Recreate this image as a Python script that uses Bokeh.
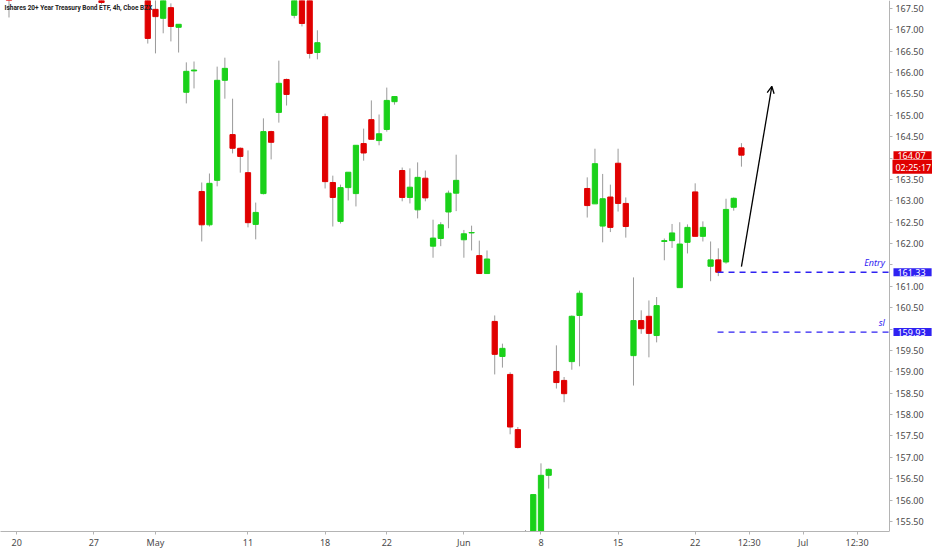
from bokeh.plotting import figure
from bokeh.models import (Range1d, FixedTicker, NumeralTickFormatter, Label,
                          Arrow, OpenHead, ColumnDataSource)
from bokeh.core.properties import value
from bokeh.embed import file_html
from bokeh.resources import INLINE

# ---------------- data (4h bars, index = bar number from Apr 20) ----------------
bar_index = [-1, 11, 17, 18, 19, 20, 21, 22, 23, 24, 25, 26, 27, 28, 29, 30, 31, 32, 33, 34,
             35, 36, 37, 38, 39, 40, 41, 42, 43, 44, 45, 46, 47, 48, 49, 50, 51, 52, 53, 54,
             55, 56, 57, 58, 59, 60, 61, 62, 63, 64, 65, 66, 67, 68, 69, 70, 71, 72, 73, 74,
             75, 76, 77, 78, 79, 80, 81, 82, 83, 84, 85, 86, 87, 88, 89, 90, 91, 92, 93, 94]
opens = [168.30, 168.20, 168.20, 167.48, 167.27, 167.52, 167.06, 165.54, 166.04, 163.22,
         162.44, 163.48, 165.82, 164.55, 164.23, 163.66, 162.45, 163.17, 164.62, 165.07,
         165.84, 167.34, 168.00, 168.00, 166.47, 164.97, 163.43, 162.52, 163.31, 163.17,
         164.34, 164.90, 164.41, 164.67, 165.32, 163.71, 163.08, 162.79, 163.53, 161.94,
         162.12, 162.74, 163.18, 162.09, 162.25, 161.72, 161.30, 160.18, 159.36, 158.94,
         157.65, 155.25, 154.70, 155.00, 156.58, 159.01, 158.80, 159.24, 160.32, 163.29,
         162.93, 162.41, 163.09, 163.88, 162.94, 159.38, 160.20, 160.30, 159.85, 162.05,
         162.07, 160.97, 162.03, 163.21, 162.17, 161.47, 161.62, 161.57, 162.85, 164.24]
highs = [168.50, 168.40, 168.40, 167.75, 168.10, 167.62, 167.13, 166.24, 166.26, 163.43,
         163.64, 166.14, 166.35, 165.39, 164.25, 164.18, 162.96, 164.93, 164.64, 166.28,
         165.86, 168.10, 168.20, 168.10, 166.99, 165.04, 163.59, 163.38, 163.67, 164.30,
         164.69, 165.35, 165.02, 165.65, 165.44, 163.78, 163.76, 163.90, 163.71, 162.56,
         162.50, 163.24, 164.08, 162.32, 162.42, 162.07, 161.84, 160.32, 159.66, 158.99,
         157.71, 155.30, 156.13, 156.86, 156.74, 159.62, 158.88, 160.32, 160.90, 163.55,
         164.22, 163.63, 163.38, 164.22, 163.08, 161.21, 160.44, 160.67, 160.75, 162.12,
         162.46, 162.50, 162.45, 163.41, 162.52, 162.05, 161.89, 163.05, 163.08, 164.35]
lows = [167.29, 167.60, 166.68, 166.45, 166.92, 166.73, 166.47, 165.28, 165.63, 162.05,
        162.40, 163.34, 165.39, 164.11, 163.66, 162.38, 162.10, 163.15, 163.97, 164.83,
        165.23, 167.27, 167.08, 166.33, 166.31, 163.29, 162.40, 162.47, 163.01, 162.87,
        163.94, 164.44, 164.30, 164.62, 165.25, 162.99, 162.94, 162.59, 162.99, 161.67,
        161.94, 162.36, 162.76, 161.67, 161.84, 161.29, 161.29, 158.94, 159.10, 157.54,
        157.21, 154.30, 154.50, 154.90, 156.27, 158.61, 158.29, 159.05, 159.13, 162.61,
        162.93, 162.03, 162.27, 162.75, 162.14, 158.68, 159.89, 159.34, 159.69, 161.61,
        161.90, 160.97, 161.77, 162.17, 162.05, 161.12, 161.24, 161.53, 162.77, 163.80]
closes = [168.00, 167.64, 166.80, 167.31, 167.90, 167.08, 167.13, 166.03, 166.06, 162.44,
          163.41, 165.82, 166.10, 164.23, 164.04, 162.49, 162.73, 164.62, 164.37, 165.75,
          165.49, 167.90, 167.15, 166.45, 166.70, 163.45, 163.08, 163.31, 163.67, 164.30,
          164.12, 164.44, 164.57, 165.35, 165.44, 163.08, 163.32, 163.55, 163.07, 162.13,
          162.44, 163.18, 163.48, 162.23, 162.26, 161.30, 161.64, 159.41, 159.55, 157.71,
          157.23, 154.60, 156.13, 156.58, 156.72, 158.75, 158.49, 160.30, 160.84, 162.89,
          163.87, 163.05, 162.38, 162.94, 162.40, 160.20, 160.01, 159.90, 160.55, 162.07,
          162.25, 161.99, 162.38, 162.17, 162.38, 161.62, 161.33, 162.80, 163.06, 164.07]

x_tick_pos = [0, 10, 18, 30, 40, 48, 58, 68, 78, 88, 95, 102, 109]
x_tick_lab = ["20", "27", "May", "11", "18", "22", "Jun", "8", "15", "22", "12:30", "Jul", "12:30"]
y_ticks = [155.5, 156.0, 156.5, 157.0, 157.5, 158.0, 158.5, 159.0, 159.5, 160.0, 160.5,
           161.0, 161.5, 162.0, 162.5, 163.0, 163.5, 164.0, 164.5, 165.0, 165.5, 166.0,
           166.5, 167.0, 167.5]
y_ticks_hidden = [164.0, 161.5, 160.0]   # covered by the price boxes

last_price = 164.07
countdown = "02:25:17"
entry_level = 161.33
sl_level = 159.93
level_start = 90.9
arrow_start = (94.0, 161.46)
arrow_end = (97.94, 165.68)
title_text = "Ishares 20+ Year Treasury Bond ETF, 4h, Cboe BZX"

# ---------------- styling ----------------
GREEN = "#1ad11a"
RED = "#e00000"
BLUE = "#2f22f2"
WICK = "#9a9a9a"
AXIS_TXT = "#4a4a4a"
AXIS_LINE = "#b4b4b4"
FONT = "Noto Sans"

FRAME_W = 932
x0 = -2.101          # left edge of the plot area (bar units)
x_axis_pos = 113.2   # where the price scale sits
x1 = x0 + FRAME_W / 7.71
y0, y1 = 155.266, 167.687

colors = [GREEN if c >= o else RED for o, c in zip(opens, closes)]
src = ColumnDataSource(dict(x=bar_index, o=opens, h=highs, l=lows, c=closes,
                            top=[max(a, b) for a, b in zip(opens, closes)],
                            bot=[min(a, b) for a, b in zip(opens, closes)],
                            col=colors))

p = figure(frame_width=FRAME_W, frame_height=531, output_backend="svg", toolbar_location=None,
           x_range=Range1d(x0, x1), y_range=Range1d(y0, y1), y_axis_location="right",
           min_border_left=0, min_border_top=0, min_border_bottom=0, min_border_right=0,
           background_fill_color="white", border_fill_color="white")
p.outline_line_color = None
p.grid.visible = False

p.segment(x0="x", y0="h", x1="x", y1="l", source=src, line_color=WICK, line_width=1)
p.vbar(x="x", width=0.68, top="top", bottom="bot", source=src,
       fill_color="col", line_color="col", line_width=1)

# entry / sl levels
for lvl, name in [(entry_level, "Entry"), (sl_level, "sl")]:
    p.line(x=[level_start, x_axis_pos], y=[lvl, lvl], line_color=BLUE, line_width=1.4,
           line_dash="6 5")
    p.text(x=[x_axis_pos - 0.6], y=[lvl], text=[name], text_align="right",
           text_baseline="bottom", y_offset=-3, text_color=BLUE, text_font_size="9px",
           text_font_style="italic", text_font=value(FONT))

# arrow
p.add_layout(Arrow(end=OpenHead(size=7, line_color="black", line_width=1.3),
                   x_start=arrow_start[0], y_start=arrow_start[1],
                   x_end=arrow_end[0], y_end=arrow_end[1],
                   line_color="black", line_width=1.3))

# axes
yax = p.yaxis[0]
yax.ticker = FixedTicker(ticks=y_ticks)
yax.formatter = NumeralTickFormatter(format="0.00")
yax.major_label_overrides = {t: "" for t in y_ticks_hidden}
yax.fixed_location = x_axis_pos
xax = p.xaxis[0]
xax.ticker = FixedTicker(ticks=x_tick_pos)
xax.major_label_overrides = {k: v for k, v in zip(x_tick_pos, x_tick_lab)}
xax.bounds = (x0, x_axis_pos)
for ax in (xax, yax):
    ax.axis_line_color = AXIS_LINE
    ax.major_tick_line_color = AXIS_LINE
    ax.major_tick_out = 3
    ax.major_tick_in = 0
    ax.minor_tick_line_color = None
    ax.major_label_text_font_size = "9px"
    ax.major_label_text_color = AXIS_TXT
    ax.major_label_text_font = FONT
yax.major_label_standoff = 3
xax.major_label_standoff = 1

# price boxes on the price scale
def box(y, text, color, yoff=0, pad_l=4, pad_r=6):
    p.add_layout(Label(x=x_axis_pos, y=y, text=text, text_color="white",
                       text_font_size="9px", text_font=FONT, text_align="left",
                       text_baseline="middle", background_fill_color=color,
                       padding=dict(left=pad_l, right=pad_r, top=1, bottom=0),
                       x_offset=pad_l, y_offset=yoff, level="overlay"))

box(last_price, f"{last_price:.2f}", RED)
box(last_price, countdown, RED, yoff=-11.5, pad_l=3, pad_r=3)
box(entry_level, f"{entry_level:.2f}", BLUE)
box(sl_level, f"{sl_level:.2f}", BLUE)

# title
p.add_layout(Label(x=x0, y=y1, text=title_text, text_font_size="6.5px", text_font_style="bold",
                   text_font="Roboto", text_color="#222222", text_align="left",
                   text_baseline="top", x_offset=4, y_offset=-3))

open("out.html", "w").write(file_html(p, INLINE))
